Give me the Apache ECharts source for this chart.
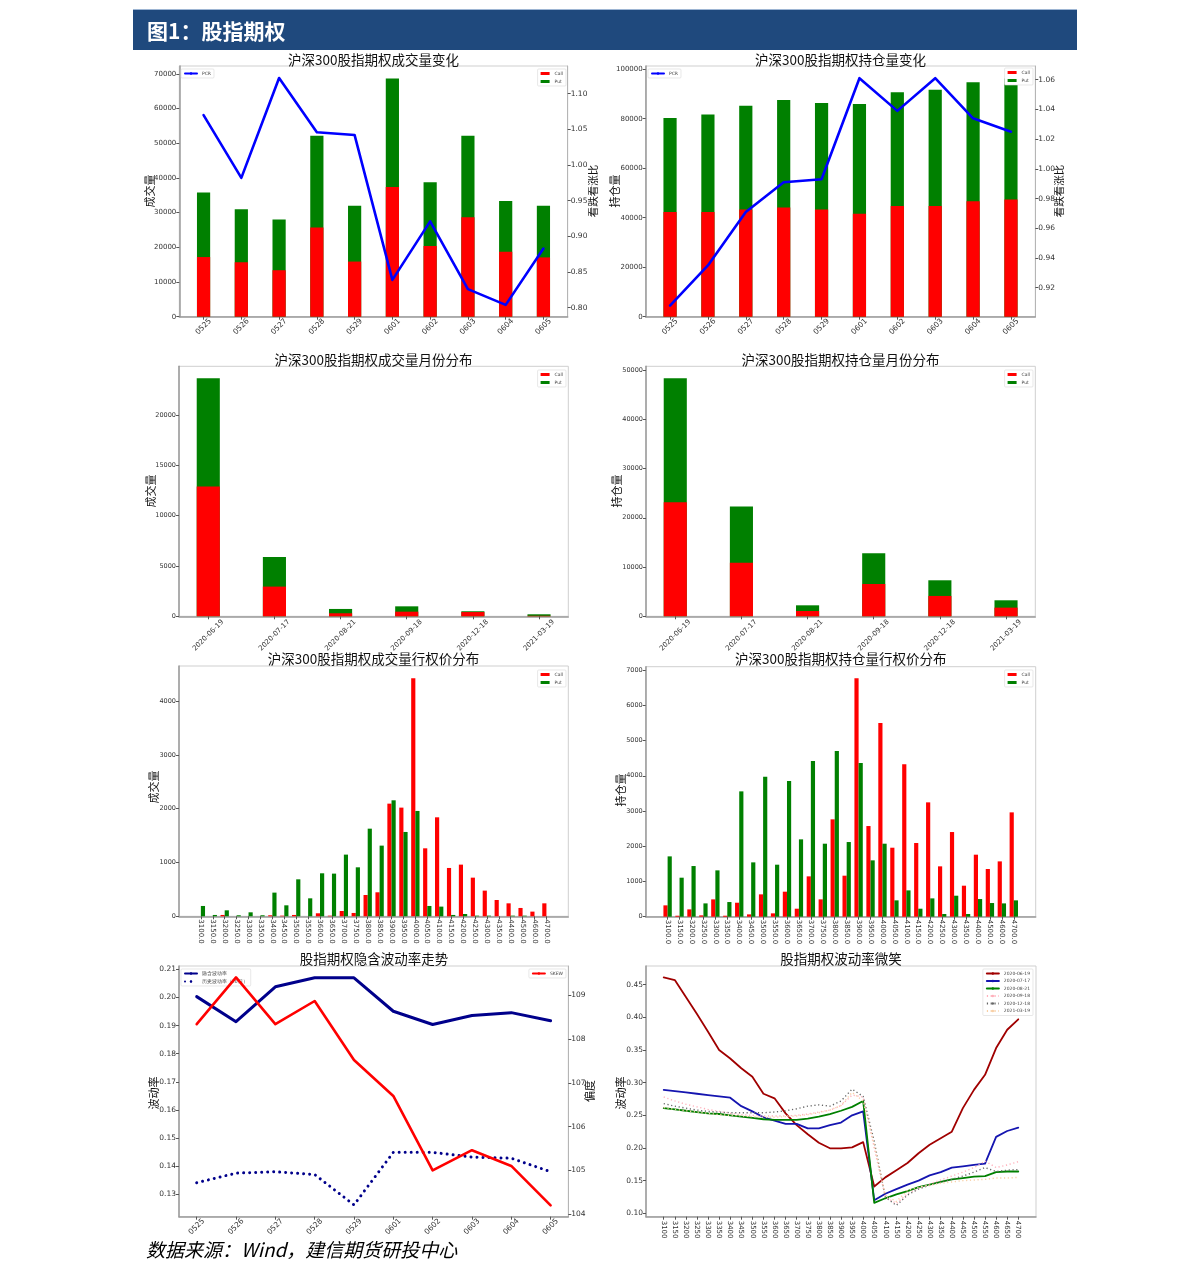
<!DOCTYPE html>
<html><head><meta charset="utf-8">
<script src="https://cdn.jsdelivr.net/npm/echarts@6/dist/echarts.min.js"></script>
<style>html,body{margin:0;padding:0;background:#fff}#c{width:1191px;height:1281px}</style>
</head><body><div id="c"></div><script>
// ---------- data ----------
const days = ['0525','0526','0527','0528','0529','0601','0602','0603','0604','0605'];
const volCall = [17200,15700,13400,25700,15900,37400,20400,28700,18700,17100];
const volPut  = [18600,15300,14600,26500,16100,31300,18400,23500,14700,14900];
const volPCR  = [1.070,0.982,1.122,1.046,1.042,0.839,0.921,0.826,0.804,0.883];
const oiCall  = [42300,42300,43300,44100,43300,41600,44700,44700,46600,47400];
const oiPut   = [38000,39400,41900,43500,43000,44300,46000,47000,48100,48800];
const oiPCR   = [0.908,0.935,0.971,0.991,0.993,1.061,1.039,1.061,1.034,1.025];

const months   = ['2020-06-19','2020-07-17','2020-08-21','2020-09-18','2020-12-18','2021-03-19'];
const mVolCall = [12880,2950,300,460,420,50];
const mVolPut  = [10760,2950,430,530,80,150];
const mOiCall  = [23140,10890,1080,6560,4130,1760];
const mOiPut   = [25170,11370,1150,6230,3180,1490];

const strikes = ['3100.0','3150.0','3200.0','3250.0','3300.0','3350.0','3400.0','3450.0','3500.0','3550.0',
  '3600.0','3650.0','3700.0','3750.0','3800.0','3850.0','3900.0','3950.0','4000.0','4050.0',
  '4100.0','4150.0','4200.0','4250.0','4300.0','4350.0','4400.0','4500.0','4600.0','4700.0'];
const sVolCall = [0,0,25,0,0,0,19,12,25,0,56,12,99,62,396,446,2093,2019,4421,1263,1839,898,960,718,477,303,241,155,87,241];
const sVolPut  = [192,25,111,19,74,19,440,204,687,334,799,793,1146,910,1628,1313,2155,1567,1957,192,180,25,43,12,12,0,12,12,0,0];
const sOiCall  = [322,28,208,38,492,28,397,66,634,95,710,227,1145,492,2763,1164,6764,2573,5497,1958,4324,2091,3245,1429,2403,880,1760,1353,1570,2961];
const sOiPut   = [1712,1107,1438,378,1315,416,3557,1542,3974,1476,3851,2195,4418,2072,4702,2119,4361,1599,2072,464,747,227,520,76,596,76,501,388,378,464];

const ivNames = ['隐含波动率','历史波动率（20日）','SKEW'];
const ivVals  = [0.2003,0.1914,0.2038,0.2070,0.2070,0.1951,0.1904,0.1936,0.1946,0.1917];
const hvVals  = [0.1341,0.1375,0.1380,0.1370,0.1262,0.1449,0.1449,0.1432,0.1428,0.1380];
const skewVals= [108.34,109.41,108.34,108.87,107.52,106.70,105.00,105.46,105.10,104.20];

const smileStrikes = ['3100','3150','3200','3250','3300','3350','3400','3450','3500','3550','3600','3650','3700','3750',
  '3800','3850','3900','3950','4000','4050','4100','4150','4200','4250','4300','4350','4400','4450','4500','4550','4600','4650','4700'];
const smileNames = ['2020-06-19','2020-07-17','2020-08-21','2020-09-18','2020-12-18','2021-03-19'];
const smile0619 = [0.461,0.457,0.431,0.405,0.378,0.350,0.337,0.322,0.309,0.283,0.276,0.253,0.235,0.221,0.208,0.1995,0.1995,0.201,0.209,0.141,0.155,0.166,0.177,0.192,0.205,0.215,0.225,0.261,0.289,0.312,0.353,0.381,0.397];
const smile0717 = [0.289,0.287,0.285,0.283,0.281,0.279,0.277,0.264,0.256,0.247,0.242,0.237,0.237,0.230,0.230,0.235,0.239,0.250,0.256,0.120,0.130,0.137,0.144,0.150,0.158,0.163,0.170,0.172,0.174,0.176,0.217,0.226,0.231];
const smile0821 = [0.261,0.259,0.257,0.255,0.253,0.252,0.250,0.248,0.246,0.244,0.243,0.243,0.243,0.245,0.248,0.252,0.257,0.263,0.272,0.116,0.123,0.129,0.134,0.140,0.144,0.148,0.152,0.154,0.156,0.157,0.163,0.164,0.164];
const smile0918 = [0.278,0.272,0.267,0.263,0.259,0.256,0.253,0.251,0.250,0.249,0.249,0.249,0.250,0.252,0.255,0.258,0.265,0.281,0.278,0.200,0.125,0.115,0.130,0.138,0.145,0.151,0.157,0.163,0.170,0.180,0.170,0.174,0.179];
const smile1218 = [0.268,0.264,0.261,0.258,0.256,0.255,0.254,0.254,0.254,0.254,0.255,0.257,0.260,0.264,0.266,0.264,0.272,0.290,0.279,0.210,0.125,0.112,0.128,0.137,0.143,0.148,0.152,0.157,0.163,0.170,0.164,0.166,0.167];
const smile0319 = [0.262,0.259,0.257,0.255,0.253,0.251,0.250,0.249,0.248,0.247,0.247,0.248,0.249,0.251,0.254,0.258,0.265,0.285,0.272,0.205,0.128,0.118,0.135,0.140,0.143,0.146,0.148,0.150,0.151,0.152,0.154,0.154,0.155];

const tickVol = [0,10000,20000,30000,40000,50000,60000,70000];
const tickOi  = [0,20000,40000,60000,80000,100000];
const tickPcr1 = [0.80,0.85,0.90,0.95,1.00,1.05,1.10];
const tickPcr2 = [0.92,0.94,0.96,0.98,1.00,1.02,1.04,1.06];
const tickMVol = [0,5000,10000,15000,20000];
const tickMOi  = [0,10000,20000,30000,40000,50000];
const tickSVol = [0,1000,2000,3000,4000];
const tickSOi  = [0,1000,2000,3000,4000,5000,6000,7000];
const tickIV   = [0.13,0.14,0.15,0.16,0.17,0.18,0.19,0.20,0.21];
const tickSkew = [104,105,106,107,108,109];
const tickSmile= [0.10,0.15,0.20,0.25,0.30,0.35,0.40,0.45];

// ---------- style ----------
const FONT = 'DejaVu Sans';
const CJK = 'Noto Sans CJK SC';
const RED = '#ff0000', GREEN = '#008000';

const gridPos = [
  [179.3, 66, 388.4, 250.7],
  [645.7, 66, 389.6, 250.7],
  [179, 366.3, 389.3, 250],
  [646, 366.3, 389.3, 250],
  [179, 666, 389.3, 250.3],
  [645.7, 666.7, 390, 250],
  [179, 966, 389.3, 250.7],
  [646, 966, 390, 250.7]
];
const grid = gridPos.map(g => ({left:g[0], top:g[1], width:g[2], height:g[3], show:true,
  borderColor:'#cfcfcf', borderWidth:1, backgroundColor:'transparent', containLabel:false}));

function xAx(gi, labels, min, max, off, lab) {
  const vals = labels.map((_, i) => +(i + off).toFixed(4));
  return {
    type:'value', gridIndex:gi, min:min, max:max,
    axisLine:{show:true, onZero:false, lineStyle:{color:'#9a9a9a', width:1.5}},
    axisTick:{show:true, length:3, customValues:vals, lineStyle:{color:'#555', width:1}},
    axisLabel:Object.assign({customValues:vals, formatter:(v)=>{const k=Math.round(v-off); return labels[k]!==undefined?labels[k]:'';},
      fontFamily:FONT, color:'#333', hideOverlap:false}, lab),
    splitLine:{show:false}
  };
}
function yAx(gi, min, max, ticks, fmt, fs, pos) {
  const right = pos === 'right';
  return {
    type:'value', gridIndex:gi, min:min, max:max, position:right?'right':'left',
    axisLine:{show:true, onZero:false, lineStyle:{color:right?'#b5b5b5':'#9a9a9a', width:right?1:1.5}},
    axisTick:{show:true, length:3, customValues:ticks, lineStyle:{color:'#555'}},
    axisLabel:{customValues:ticks, formatter:fmt, fontFamily:FONT, fontSize:fs, color:'#333', margin:3, hideOverlap:false},
    splitLine:{show:false}
  };
}
const f0 = v => String(Math.round(v));
const f2 = v => v.toFixed(2);

const rot45 = fs => ({rotate:45, align:'center', verticalAlign:'middle', fontSize:fs});

const xAxis = [
  xAx(0, days, -0.6425, 9.6425, 0, Object.assign(rot45(7.5), {margin:10})),
  xAx(1, days, -0.6425, 9.6425, 0, Object.assign(rot45(7.5), {margin:10})),
  xAx(2, months, -0.4425, 5.4425, 0, Object.assign(rot45(7), {margin:19})),
  xAx(3, months, -0.4425, 5.4425, 0, Object.assign(rot45(7), {margin:19})),
  xAx(4, strikes, -1.66, 31.01, 0.175, {rotate:-90, fontSize:7, margin:3}),
  xAx(5, strikes, -1.66, 31.01, 0.175, {rotate:-90, fontSize:7, margin:3}),
  xAx(6, days, -0.45, 9.45, 0, Object.assign(rot45(7.5), {margin:10})),
  xAx(7, smileStrikes, -1.6, 33.6, 0, {rotate:-90, fontSize:7, margin:4})
];
const yAxis = [
  yAx(0, 0, 72300, tickVol, f0, 7),            //0
  yAx(0, 0.7874, 1.1388, tickPcr1, f2, 7.5, 'right'), //1
  yAx(1, 0, 101300, tickOi, f0, 7),            //2
  yAx(1, 0.9005, 1.0692, tickPcr2, f2, 7.5, 'right'), //3
  yAx(2, 0, 24830, tickMVol, f0, 6.5),         //4
  yAx(3, 0, 50740, tickMOi, f0, 6.5),          //5
  yAx(4, 0, 4650, tickSVol, f0, 6.5),          //6
  yAx(5, 0, 7095, tickSOi, f0, 6.5),           //7
  yAx(6, 0.1220, 0.2112, tickIV, f2, 7.5),     //8
  yAx(6, 103.94, 109.67, tickSkew, f0, 7.5, 'right'), //9
  yAx(7, 0.0948, 0.4786, tickSmile, f2, 7.5)   //10
];

const pts = (arr, off) => arr.map((v, i) => [i + (off || 0), v]);
// stacked column: green part sits on top of red part (call at bottom, put above)
function stackPair(xi, yi, call, put, w) {
  const total = call.map((c, i) => c + put[i]);
  return [
    {type:'bar', name:'Put', xAxisIndex:xi, yAxisIndex:yi, data:pts(total), barWidth:w, barGap:'-100%',
      itemStyle:{color:GREEN}, emphasis:{disabled:true}, z:2},
    {type:'bar', name:'Call', xAxisIndex:xi, yAxisIndex:yi, data:pts(call), barWidth:w, barGap:'-100%',
      itemStyle:{color:RED}, emphasis:{disabled:true}, z:3}
  ];
}
function bar(name, xi, yi, arr, color, w, off) {
  return {type:'bar', name:name, xAxisIndex:xi, yAxisIndex:yi, data:pts(arr, off), barWidth:w, barGap:'0%',
    itemStyle:{color:color}, emphasis:{disabled:true}};
}
function line(name, xi, yi, arr, color, width, type, cap) {
  return {type:'line', name:name, xAxisIndex:xi, yAxisIndex:yi, data:pts(arr), symbol:'none', showSymbol:false,
    lineStyle:{color:color, width:width, type:type||'solid', cap:cap||'round', join:'round'}, itemStyle:{color:color},
    emphasis:{disabled:true}, z:5};
}

const series = [].concat(
  stackPair(0, 0, volCall, volPut, 13.2),
  [line('PCR', 0, 1, volPCR, '#0000ff', 2.6)],
  stackPair(1, 2, oiCall, oiPut, 13.2),
  [line('PCR', 1, 3, oiPCR, '#0000ff', 2.6)],
  stackPair(2, 4, mVolCall, mVolPut, 23.1),
  stackPair(3, 5, mOiCall, mOiPut, 23.1),
  [
    bar('Call', 4, 6, sVolCall, RED, 4.17, 0.175),
    bar('Put', 4, 6, sVolPut, GREEN, 4.17, 0.175),
    bar('Call', 5, 7, sOiCall, RED, 4.18, 0.175),
    bar('Put', 5, 7, sOiPut, GREEN, 4.18, 0.175),
    line(ivNames[0], 6, 8, ivVals, '#00008b', 3),
    line(ivNames[1], 6, 8, hvVals, '#00008b', 3, [0.01, 6], 'round'),
    line(ivNames[2], 6, 9, skewVals, RED, 2.6),
    line(smileNames[0], 7, 10, smile0619, '#a00000', 1.8),
    line(smileNames[1], 7, 10, smile0717, '#1515b0', 1.8),
    line(smileNames[2], 7, 10, smile0821, '#008000', 1.8),
    line(smileNames[3], 7, 10, smile0918, '#ffb0bb', 1.4, [1.2, 2.6], 'butt'),
    line(smileNames[4], 7, 10, smile1218, '#666666', 1.4, [1.2, 2.6], 'butt'),
    line(smileNames[5], 7, 10, smile0319, '#f8cfa5', 1.4, [1.2, 2.6], 'butt')
  ]
);

function leg(pos, data, opts) {
  return Object.assign({orient:'vertical', selectedMode:false, data:data, itemWidth:9, itemHeight:3, itemGap:3,
    padding:[2,3,2,3], borderColor:'#d8d8d8', borderWidth:0.6, borderRadius:1, backgroundColor:'#fff',
    textStyle:{fontSize:4.5, color:'#444', fontFamily:FONT}}, pos, opts||{});
}
const cp = [{name:'Call', icon:'rect'}, {name:'Put', icon:'rect'}];
const legend = [
  leg({left:181, top:69}, ['PCR'], {itemWidth:12}),
  leg({right:1191-566, top:69}, cp),
  leg({left:648, top:69}, ['PCR'], {itemWidth:12}),
  leg({right:1191-1033, top:68}, cp),
  leg({right:1191-566, top:370}, cp),
  leg({right:1191-1033, top:370}, cp),
  leg({right:1191-566, top:670}, cp),
  leg({right:1191-1033, top:670}, cp),
  leg({left:181, top:969}, [ivNames[0], ivNames[1]], {itemWidth:12}),
  leg({right:1191-566, top:969}, [ivNames[2]], {itemWidth:12}),
  leg({right:1191-1033, top:969}, smileNames, {itemWidth:12, itemGap:2.5})
];

function txt(x, y, s, fs, extra) {
  return Object.assign({type:'text', x:x, y:y, silent:true, style:Object.assign({text:s, fontSize:fs, fontFamily:CJK,
    fill:'#111', align:'center', verticalAlign:'middle'}, extra && extra.style || {})}, extra && extra.el || {});
}
const vname = (x, y, s, fs) => txt(x, y, s, fs || 11, {el:{rotation:Math.PI/2}});

const graphic = [
  {type:'rect', shape:{x:133, y:9, width:944, height:1}, style:{fill:'#9db5d3'}, silent:true},
  {type:'rect', shape:{x:133, y:10, width:944, height:40}, style:{fill:'#1f497d'}, silent:true},
  txt(147, 31, '图1：股指期权', 21, {style:{align:'left', fill:'#ffffff', fontWeight:'bold'}}),
  txt(373.5, 60, '沪深300股指期权成交量变化', 13.5),
  txt(840.5, 60, '沪深300股指期权持仓量变化', 13.5),
  txt(373.5, 360, '沪深300股指期权成交量月份分布', 13.5),
  txt(840.5, 360, '沪深300股指期权持仓量月份分布', 13.5),
  txt(373.5, 659, '沪深300股指期权成交量行权价分布', 13.5),
  txt(840.8, 659, '沪深300股指期权持仓量行权价分布', 13.5),
  txt(374, 959, '股指期权隐含波动率走势', 13.5),
  txt(841, 959, '股指期权波动率微笑', 13.5),
  vname(150, 191, '成交量'),
  vname(593, 191, '看跌看涨比', 10.5),
  vname(615, 191, '持仓量'),
  vname(1059, 191, '看跌看涨比', 10.5),
  vname(151, 491, '成交量'),
  vname(617, 491, '持仓量'),
  vname(154, 787, '成交量'),
  vname(621, 790, '持仓量'),
  vname(154, 1093, '波动率'),
  vname(590, 1091, '偏度'),
  vname(621, 1093, '波动率'),
  txt(146, 1250, '数据来源：Wind，建信期货研投中心', 19, {style:{align:'left', fontStyle:'italic', fill:'#000'}})
];

const chart = echarts.init(document.getElementById('c'), null, {renderer:'canvas', width:1191, height:1281});
chart.setOption({animation:false, backgroundColor:'#ffffff', grid:grid, xAxis:xAxis, yAxis:yAxis,
  series:series, legend:legend, graphic:graphic, tooltip:{show:false}});
</script></body></html>
